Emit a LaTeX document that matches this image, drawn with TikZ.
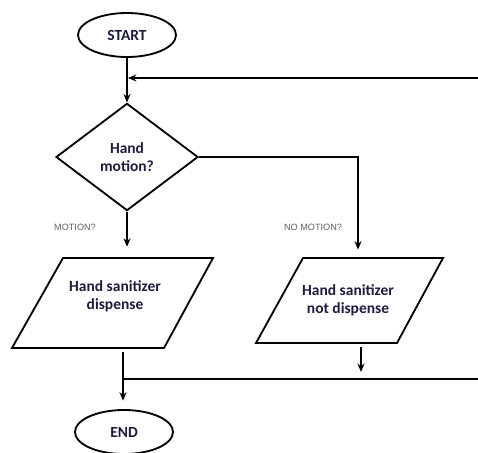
\documentclass[tikz,border=0pt]{standalone}
\usepackage{fontspec}
\setmainfont{Carlito}
\newfontfamily\lblfont{Liberation Sans}
\usetikzlibrary{shapes.geometric,arrows.meta}
\definecolor{testo}{RGB}{28,28,62}
\definecolor{grigio}{RGB}{95,95,95}
\begin{document}
\begin{tikzpicture}[x=0.025cm,y=-0.025cm,line width=1.3pt,
    terminale/.style={draw,ellipse,minimum width=2.45cm,minimum height=1.1cm,
        font=\bfseries\fontsize{11}{13}\selectfont,text=testo},
    decisione/.style={draw,diamond,minimum width=3.55cm,minimum height=2.68cm,
        align=center,font=\bfseries\fontsize{11}{13}\selectfont,text=testo},
    testouscita/.style={align=center,font=\bfseries\fontsize{11}{13}\selectfont,text=testo},
    etichetta/.style={font=\lblfont\fontsize{6.5}{8}\selectfont,text=grigio},
    freccia/.style={-{Stealth[length=6pt,width=5pt]}}]
        \useasboundingbox (0,0) rectangle (478,452);
        % Inizio e decisione
        \node[terminale] (start) at (127,35) {START};
        \node[decisione] (dec) at (127,157) {Hand\\motion?};
        % Uscita a sinistra
        \coordinate (siNO) at (63,258);
        \coordinate (siNE) at (213,258);
        \coordinate (siSE) at (164,348);
        \coordinate (siSO) at (12,348);
        \draw (siNO) -- (siNE) -- (siSE) -- (siSO) -- cycle;
        \node[testouscita] (si) at (115,296) {Hand sanitizer\\dispense};
        % Uscita a destra
        \coordinate (noNO) at (303,258);
        \coordinate (noNE) at (443,258);
        \coordinate (noSE) at (397,343);
        \coordinate (noSO) at (256,343);
        \draw (noNO) -- (noNE) -- (noSE) -- (noSO) -- cycle;
        \node[testouscita] (no) at (348,300) {Hand sanitizer\\not dispense};
        % Fine ed etichette
        \node[terminale] (fine) at (124,432) {END};
        \node[etichetta] (lblsi) at (75,227) {MOTION?};
        \node[etichetta] (lblno) at (313,227) {NO MOTION?};
        % Punti dei connettori
        \coordinate (ritornoR) at (478,78);
        \coordinate (ritornoL) at (128,78);
        \coordinate (svolta) at (358,157);
        \coordinate (discesa) at (361,343);
        \coordinate (unioneL) at (123,379);
        \coordinate (unioneR) at (478,379);
        % Connettori
        \draw[freccia] (start) -- (dec);
        \draw[freccia] (ritornoR) -- (ritornoL);
        \draw[freccia,shorten >=8pt] (dec.south) -- (dec.south |- siNO);
        \draw[freccia,shorten >=6pt] (dec.east) -- (svolta) -- (svolta |- noNO);
        \draw[freccia,shorten <=3pt,shorten >=6pt] (unioneL |- siSO) -- (unioneL |- fine.north);
        \draw[freccia,shorten <=3pt,shorten >=5pt] (discesa) -- (discesa |- unioneR);
        \draw (unioneL) -- (unioneR);
\end{tikzpicture}
\end{document}
